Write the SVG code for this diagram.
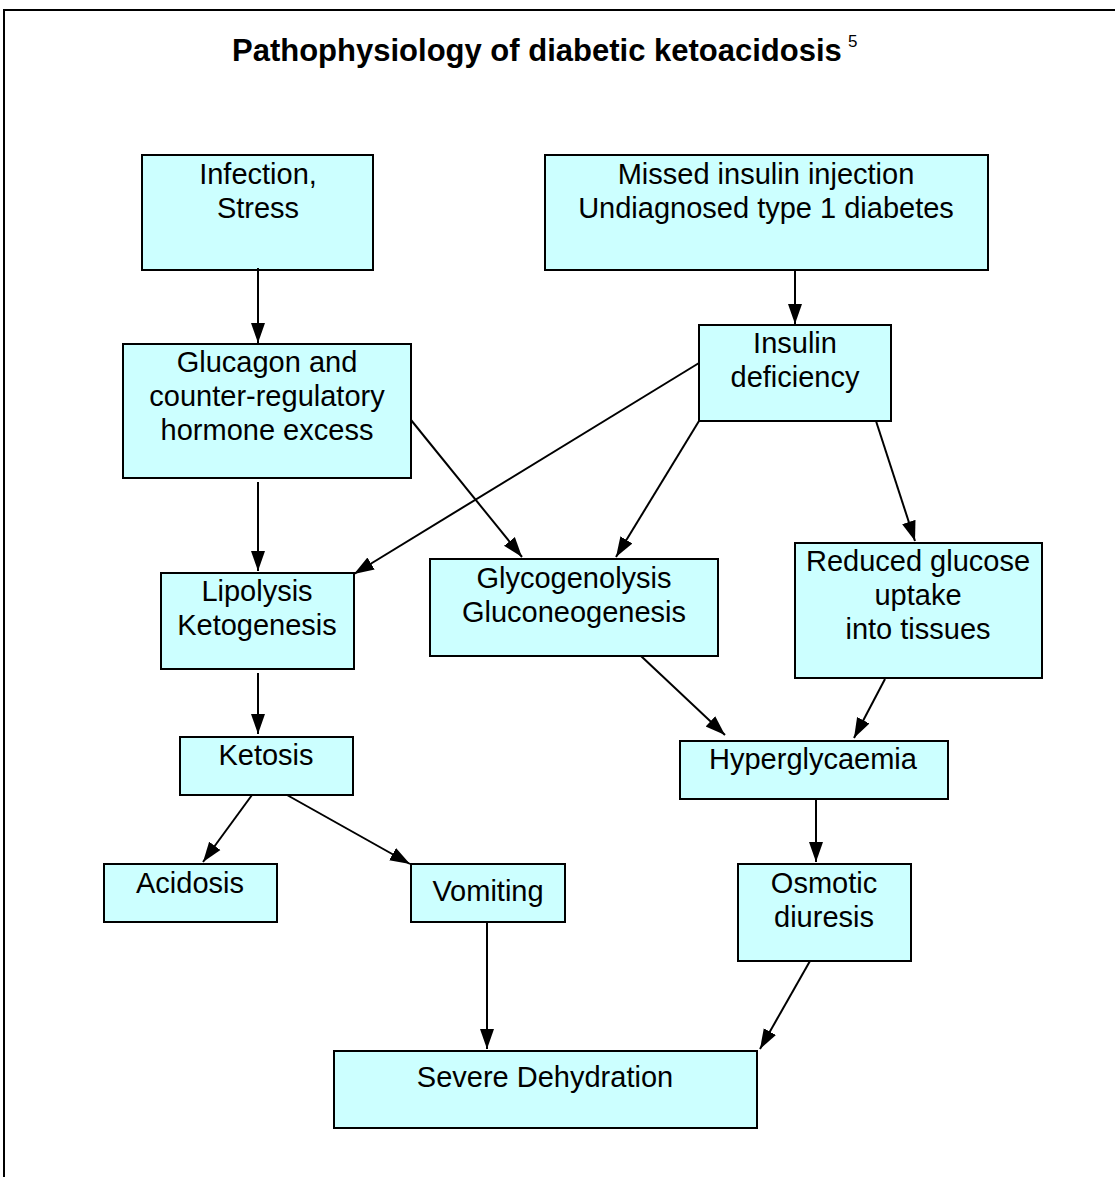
<svg xmlns="http://www.w3.org/2000/svg" width="1115" height="1177" viewBox="0 0 1115 1177">
<style>
.box{fill:#CCFFFF;stroke:#000;stroke-width:2}
.t{font-family:"Liberation Sans",Arial,sans-serif;font-size:29px;fill:#000;text-anchor:middle}
.c{stroke:#000;stroke-width:2;fill:none;marker-end:url(#ah)}
</style>
<defs>
<marker id="ah" markerUnits="userSpaceOnUse" markerWidth="22" markerHeight="16" refX="20" refY="8" orient="auto">
<path d="M0,1 L20,8 L0,15 Z" fill="#000"/>
</marker>
</defs>
<rect x="0" y="0" width="1115" height="1177" fill="#fff"/>
<rect x="4" y="10" width="1130" height="1190" fill="none" stroke="#000" stroke-width="2"/>
<text x="232" y="61" font-family="'Liberation Sans',Arial,sans-serif" font-weight="bold" font-size="31px">Pathophysiology of diabetic ketoacidosis</text>
<text x="848" y="47" font-family="'Liberation Sans',Arial,sans-serif" font-size="17px">5</text>

<g id="infection"><rect class="box" x="142" y="155" width="231" height="115"/><text class="t" x="258" y="184">Infection,</text><text class="t" x="258" y="218">Stress</text></g>
<g id="missed"><rect class="box" x="545" y="155" width="443" height="115"/><text class="t" x="766" y="184">Missed insulin injection</text><text class="t" x="766" y="218">Undiagnosed type 1 diabetes</text></g>
<g id="glucagon"><rect class="box" x="123" y="344" width="288" height="134"/><text class="t" x="267" y="372">Glucagon and</text><text class="t" x="267" y="406">counter-regulatory</text><text class="t" x="267" y="440">hormone excess</text></g>
<g id="insulin"><rect class="box" x="699" y="325" width="192" height="96"/><text class="t" x="795" y="353">Insulin</text><text class="t" x="795" y="387">deficiency</text></g>
<g id="lipolysis"><rect class="box" x="161" y="573" width="193" height="96"/><text class="t" x="257" y="601">Lipolysis</text><text class="t" x="257" y="635">Ketogenesis</text></g>
<g id="glycogenolysis"><rect class="box" x="430" y="559" width="288" height="97"/><text class="t" x="574" y="588">Glycogenolysis</text><text class="t" x="574" y="622">Gluconeogenesis</text></g>
<g id="reduced"><rect class="box" x="795" y="543" width="247" height="135"/><text class="t" x="918" y="571">Reduced glucose</text><text class="t" x="918" y="605">uptake</text><text class="t" x="918" y="639">into tissues</text></g>
<g id="ketosis"><rect class="box" x="180" y="737" width="173" height="58"/><text class="t" x="266" y="765">Ketosis</text></g>
<g id="hyperglycaemia"><rect class="box" x="680" y="741" width="268" height="58"/><text class="t" x="813" y="769">Hyperglycaemia</text></g>
<g id="acidosis"><rect class="box" x="104" y="864" width="173" height="58"/><text class="t" x="190" y="893">Acidosis</text></g>
<g id="vomiting"><rect class="box" x="411" y="864" width="154" height="58"/><text class="t" x="488" y="901">Vomiting</text></g>
<g id="osmotic"><rect class="box" x="738" y="864" width="173" height="97"/><text class="t" x="824" y="893">Osmotic</text><text class="t" x="824" y="927">diuresis</text></g>
<g id="dehydration"><rect class="box" x="334" y="1051" width="423" height="77"/><text class="t" x="545" y="1087">Severe Dehydration</text></g>

<g id="connectors">
<line class="c" x1="258" y1="268" x2="258" y2="343"/>
<line class="c" x1="795" y1="270" x2="795" y2="324"/>
<line class="c" x1="258" y1="482" x2="258" y2="571"/>
<line class="c" x1="411" y1="420" x2="522" y2="557"/>
<line class="c" x1="699" y1="363" x2="354" y2="574"/>
<line class="c" x1="699" y1="421" x2="616" y2="557"/>
<line class="c" x1="876" y1="421" x2="915" y2="541"/>
<line class="c" x1="258" y1="673" x2="258" y2="734"/>
<line class="c" x1="641" y1="656" x2="725" y2="735"/>
<line class="c" x1="885" y1="679" x2="854" y2="738"/>
<line class="c" x1="252" y1="795" x2="203" y2="862"/>
<line class="c" x1="287" y1="795" x2="410" y2="864"/>
<line class="c" x1="816" y1="799" x2="816" y2="862"/>
<line class="c" x1="487" y1="922" x2="487" y2="1049"/>
<line class="c" x1="810" y1="961" x2="760" y2="1049"/>
</g>
</svg>
